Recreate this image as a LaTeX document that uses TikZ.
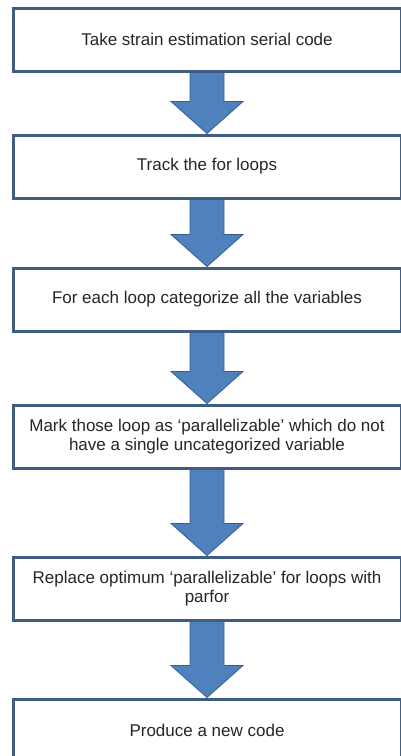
\documentclass[tikz,border=0pt]{standalone}
\usepackage{fontspec}
\setmainfont{Liberation Sans}
\usepackage{xcolor}
\usepackage{tikz}
\usetikzlibrary{positioning, calc}

\definecolor{boxline}{HTML}{415D82}
\definecolor{arrowfill}{HTML}{4F81BD}
\definecolor{arrowline}{HTML}{385D8A}
\definecolor{textgray}{HTML}{262626}

\begin{document}
\begin{tikzpicture}[
    x=1pt, y=1pt,
    box/.style={rectangle, draw=boxline, line width=3pt, fill=white, minimum width=388pt, minimum height=63pt, align=center, text=textgray, font=\fontsize{17}{19.5}\selectfont},
    blockarrow/.style={draw=arrowline, line width=0.8pt, fill=arrowfill, line join=miter}
]
\useasboundingbox (0,0) rectangle (401,-756);
\clip (0,0) rectangle (401,-756);

\node[box] (take) at (207,-39.5) {Take strain estimation serial code};
\node[box, below=61pt of take] (track) {Track the for loops};
\node[box, below=67pt of track] (categorize) {For each loop categorize all the variables};
\node[box, below=71pt of categorize] (mark) {Mark those loop as ‘parallelizable’ which do not\\have a single uncategorized variable};
\node[box, below=86pt of mark] (replace) {Replace optimum ‘parallelizable’ for loops with\\parfor};
\node[box, below=76pt of replace] (produce) {Produce a new code};

% block arrows between the steps
\foreach \a/\b in {take/track, track/categorize, categorize/mark, mark/replace, replace/produce}
    \draw[blockarrow] ($(\a.south)+(-17,0)$) -- ($(\b.north)+(-17,32)$) -- ($(\b.north)+(-36,32)$)
        -- (\b.north) -- ($(\b.north)+(36,32)$) -- ($(\b.north)+(17,32)$) -- ($(\a.south)+(17,0)$) -- cycle;

\end{tikzpicture}
\end{document}
